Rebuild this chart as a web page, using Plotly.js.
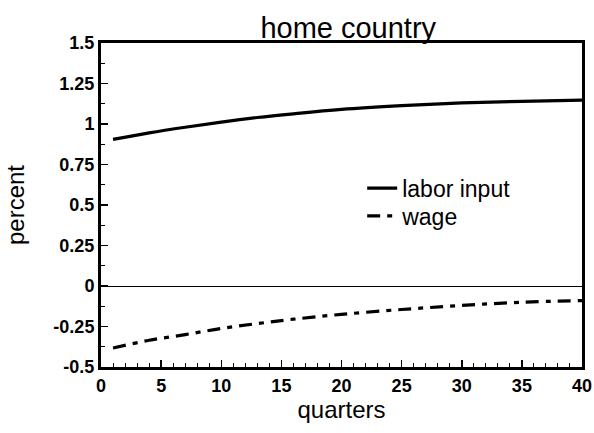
<!DOCTYPE html>
<html>
<head>
<meta charset="utf-8">
<script src="https://cdn.plot.ly/plotly-3.0.1.min.js"></script>
<style>html,body{margin:0;padding:0;background:#fff;}#chart{width:594px;height:433px;}</style>
</head>
<body>
<div id="chart"></div>
<script>
// Data
const quarters = [1, 4, 7, 10, 13, 16, 20, 25, 30, 35, 40];
const laborInput = [0.905, 0.945, 0.98, 1.012, 1.04, 1.063, 1.09, 1.113, 1.13, 1.14, 1.147];
const wage = [-0.383, -0.335, -0.30, -0.262, -0.232, -0.205, -0.175, -0.145, -0.12, -0.10, -0.09];
const yTickVals = [1.5, 1.25, 1, 0.75, 0.5, 0.25, 0, -0.25, -0.5];
const yTickText = ["1.5", "1.25", "1", "0.75", "0.5", "0.25", "0", "-0.25", "-0.5"];
const xTickVals = [0, 5, 10, 15, 20, 25, 30, 35, 40];
const xTickText = ["0", "5", "10", "15", "20", "25", "30", "35", "40"];
const seriesNames = ["labor input", "wage"];

const FONT = "Liberation Sans, Arial, Helvetica, sans-serif";

const traces = [
  {
    x: quarters, y: laborInput, name: seriesNames[0], type: "scatter", mode: "lines",
    legend: "legend",
    line: {color: "#000", width: 3.2, shape: "spline"}
  },
  {
    x: quarters, y: wage, name: seriesNames[1], type: "scatter", mode: "lines",
    legend: "legend2",
    line: {color: "#000", width: 3.2, shape: "spline", dash: "13px,7px,5px,7px"}
  }
];

const legendCommon = {
  xanchor: "left", yanchor: "middle", bgcolor: "rgba(0,0,0,0)", borderwidth: 0,
  font: {family: FONT, size: 23, color: "#000"}, itemwidth: 30
};

const layout = {
  width: 594, height: 433,
  margin: {l: 101, r: 12, t: 43, b: 66},
  paper_bgcolor: "#fff", plot_bgcolor: "#fff",
  font: {family: FONT, color: "#000"},
  showlegend: true,
  title: {text: "home country", x: 0.514, xref: "paper", y: 0.935, yref: "container", yanchor: "middle",
          font: {family: FONT, size: 29, color: "#000"}},
  legend: Object.assign({}, legendCommon, {x: 0.543, y: 0.552}),
  legend2: Object.assign({}, legendCommon, {x: 0.543, y: 0.466}),
  xaxis: {
    range: [0, 40], tickvals: xTickVals, ticktext: xTickText,
    ticks: "inside", ticklen: 7, tickwidth: 1.5, tickcolor: "#000",
    minor: {ticks: "inside", dtick: 1, ticklen: 4, tickwidth: 1, tickcolor: "#000", showgrid: false},
    showline: true, linewidth: 3, linecolor: "#000", mirror: true,
    showgrid: false, zeroline: false,
    tickfont: {family: FONT, size: 18, color: "#000", weight: "bold"},
    title: {text: "quarters", font: {family: FONT, size: 24, color: "#000"}, standoff: 6}
  },
  yaxis: {
    range: [-0.5, 1.5], tickvals: yTickVals, ticktext: yTickText,
    ticks: "inside", ticklen: 7, tickwidth: 1.5, tickcolor: "#000",
    minor: {ticks: "inside", dtick: 0.125, tick0: 0, ticklen: 4, tickwidth: 1, tickcolor: "#000", showgrid: false},
    showline: true, linewidth: 3, linecolor: "#000", mirror: true,
    showgrid: false, zeroline: true, zerolinecolor: "#000", zerolinewidth: 1,
    tickfont: {family: FONT, size: 18, color: "#000", weight: "bold"},
    title: {text: "percent", font: {family: FONT, size: 24, color: "#000"}, standoff: 22}
  }
};

Plotly.newPlot("chart", traces, layout, {displayModeBar: false, staticPlot: true});
</script>
</body>
</html>
